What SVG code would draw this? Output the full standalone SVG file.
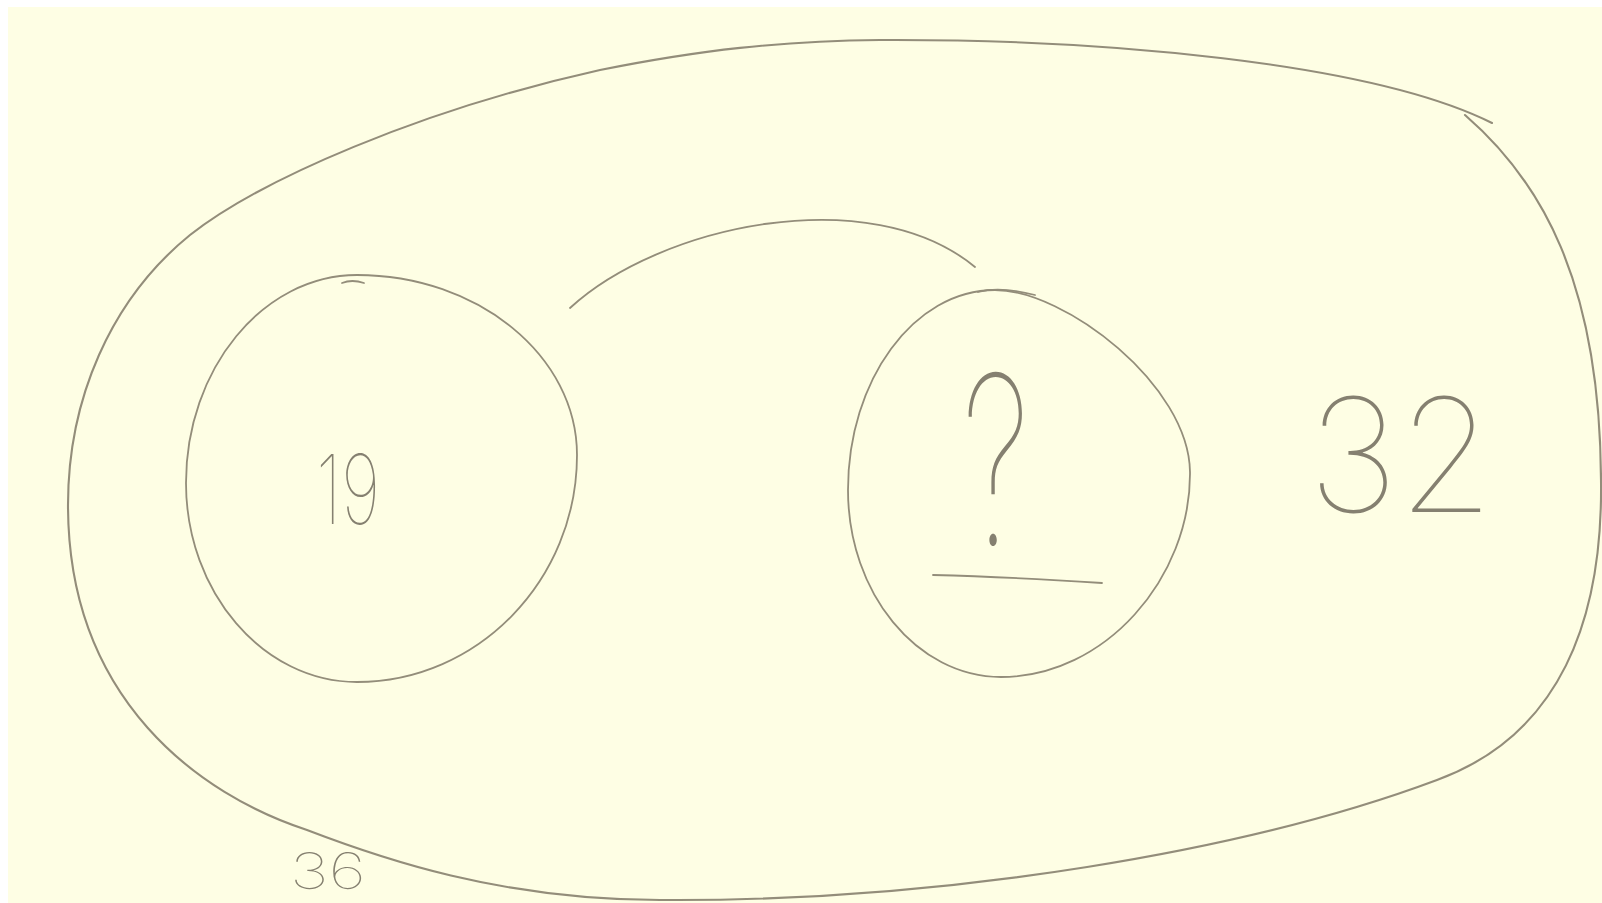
<svg xmlns="http://www.w3.org/2000/svg" width="1602" height="903" viewBox="0 0 1602 903">
<style>
.pen{fill:none;stroke:#938d7a;stroke-width:1.8;stroke-linecap:round;stroke-linejoin:round}
.outer{stroke-width:2.1}
.hand{font-family:Inter,"DejaVu Sans","Liberation Sans",sans-serif;font-weight:100;fill:#858070}
</style>
<rect width="1602" height="903" fill="#ffffff"/>
<rect x="8" y="7" width="1594" height="896" fill="#fefee4"/>
<g id="universe">
<path class="pen outer" d="M1465,115 C1540,180 1600,280 1601,480 C1603,620 1560,735 1437,780 C1250,850 950,902 660,900 C500,900 380,858 307,830 C200,795 68,700 68,505 C68,400 110,300 190,235 C260,180 420,110 600,70 C700,50 780,41 880,40 C1100,39 1370,62 1492,123"/>
</g>
<g id="set-19">
<path class="pen" d="M357,275 C478,275 577,356 577,455 C577,580 478,682 357,682 C263,682 186,592 186,483 C186,369 263,275 357,275 Z"/>
<path class="pen" d="M342,283 Q352,279 364,283"/>
<text class="hand" x="316" y="524" font-size="96" textLength="64" lengthAdjust="spacingAndGlyphs">19</text>
</g>
<g id="set-unknown">
<path class="pen" d="M995,290 C1065,290 1189,385 1190,472 C1191,578 1105,677 1001,677 C917,677 848,593 848,490 C848,380 914,290 995,290 Z"/>
<path class="pen" d="M978,292 Q1000,286 1035,295"/>
<text class="hand" x="962" y="545" font-size="235" textLength="68" lengthAdjust="spacingAndGlyphs">?</text>
<path class="pen" d="M933,575 Q1010,577 1102,583"/>
</g>
<g id="label-32">
<text class="hand" x="1308" y="512" font-size="158" textLength="186" lengthAdjust="spacingAndGlyphs">32</text>
</g>
<g id="label-36">
<text class="hand" x="290" y="889" font-size="50" textLength="76" lengthAdjust="spacingAndGlyphs">36</text>
</g>
<g id="connectors">
<path class="pen" d="M570,308 C660,225 870,180 975,267"/>
</g>
</svg>
